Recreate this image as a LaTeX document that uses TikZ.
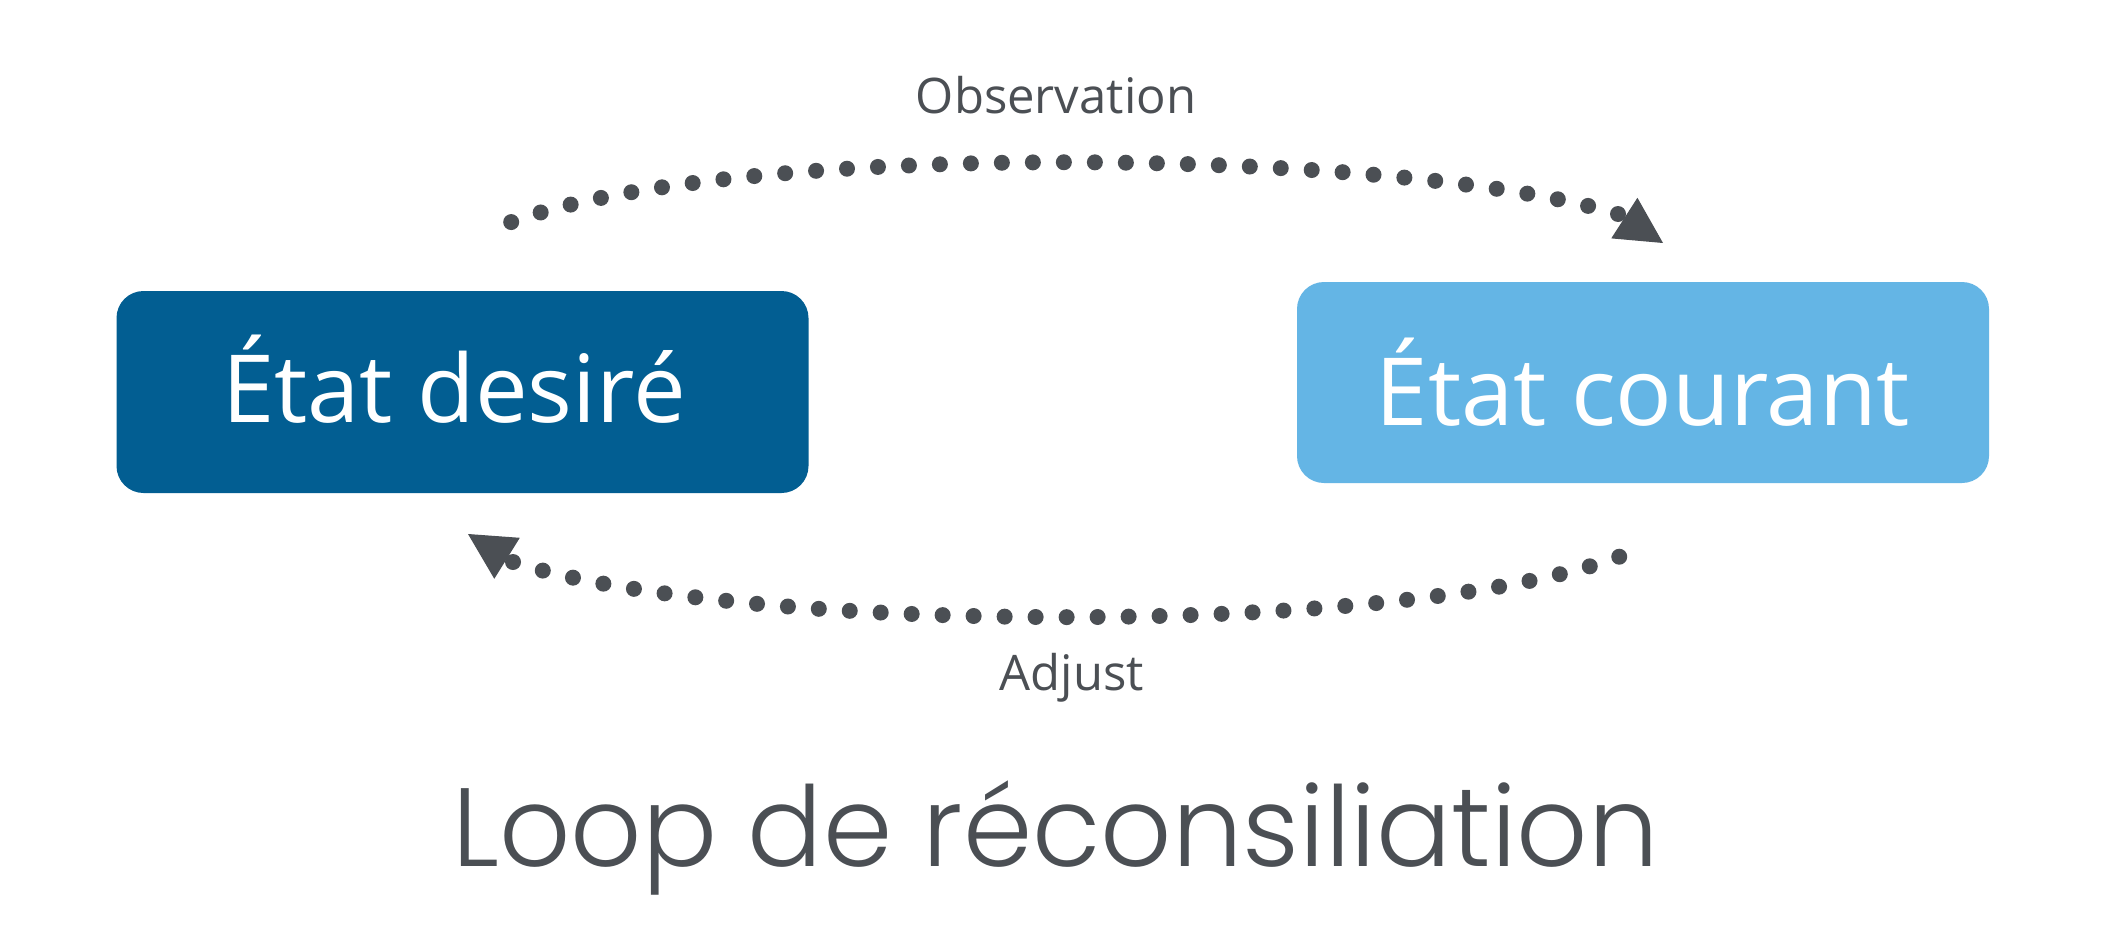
\documentclass[tikz,border=0pt]{standalone}
\usepackage{fontspec}
\setmainfont{Open Sans}
\newfontfamily\titlefont{Poppins Light}
\usetikzlibrary{arrows.meta}
\definecolor{darkblue}{HTML}{025E92}
\definecolor{lightblue}{HTML}{64B5E5}
\definecolor{inkgray}{HTML}{4B4F54}
\tikzset{
  statebox/.style={draw=none, rounded corners=13.5pt, minimum width=346pt, minimum height=101pt,
    inner sep=0pt, text=white, font=\fontsize{47}{50}\selectfont, text depth=0pt},
  dotline/.style={draw=inkgray, line width=8pt, line cap=round, dash pattern=on 0pt off 15.5pt},
  tipline/.style={draw=inkgray, fill=inkgray, line width=0.6pt, -{Triangle[length=23pt,width=24pt]}},
  arclabel/.style={anchor=base, text=inkgray, font=\fontsize{24.5}{28}\selectfont, inner sep=0pt},
  titlelabel/.style={anchor=base, text=inkgray, font=\titlefont\fontsize{55.7}{60}\selectfont, inner sep=0pt}
}
\begin{document}
\begin{tikzpicture}[x=0.5pt, y=-0.5pt]
\useasboundingbox (0,0) rectangle (2109,937);
\fill[white] (0,0) rectangle (2109,937);
\node[statebox, fill=darkblue, text height=30pt] (desire) at (462.5,392) {État desiré\kern8.5pt};
\node[statebox, fill=lightblue, text height=42.5pt, minimum height=100.5pt] (courant) at (1643,382.5) {État courant};
% top arc (observation)
\coordinate (t0) at (501,226);
\coordinate (t3) at (1618,214);
\coordinate (ttip) at (1663,243);
\draw[dotline] (t3) .. controls (1398,147) and (716,139) .. (t0);
\draw[tipline] (t3) -- (ttip);
% bottom arc (adjust)
\coordinate (b0) at (1629,553);
\coordinate (b3) at (513,562);
\coordinate (btip) at (468,534);
\draw[dotline] (b3) .. controls (735,634) and (1411,640) .. (b0);
\draw[tipline] (b3) -- (btip);
\node[arclabel] (obs) at (1056,113) {Observation};
\node[arclabel] (adj) at (1072,690) {Adjust};
\node[titlelabel] (title) at (1055.5,866) {Loop de réconsiliation};
\end{tikzpicture}
\end{document}
